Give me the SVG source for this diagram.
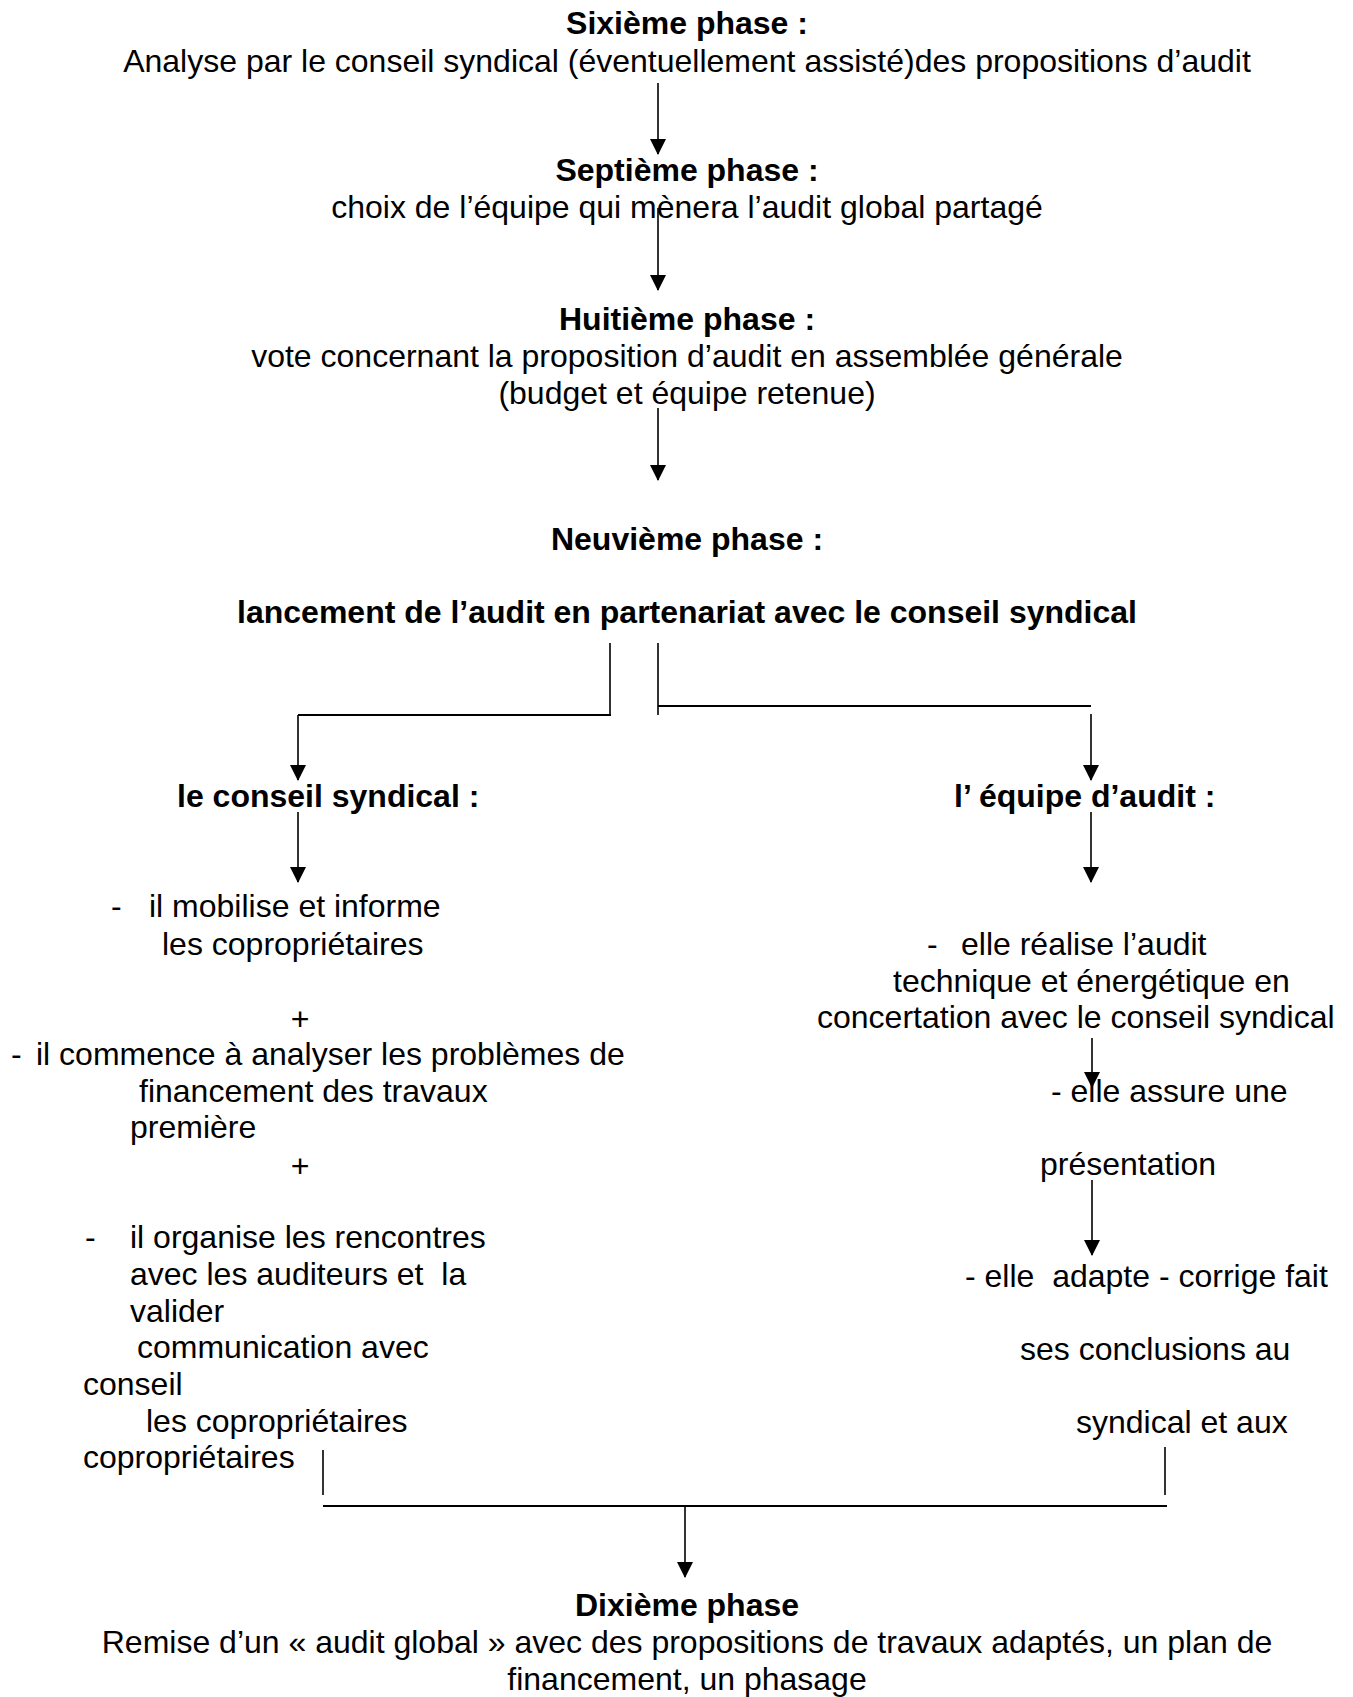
<svg xmlns="http://www.w3.org/2000/svg" width="1353" height="1697" viewBox="0 0 1353 1697">
<style>
text{font-family:"Liberation Sans",Arial,Helvetica,sans-serif;font-size:32px;fill:#000;white-space:pre}
.b{font-weight:bold}
.c{text-anchor:middle}
.ln{stroke:#000;stroke-width:1.6;fill:none}
.hl{stroke:#000;stroke-width:2.2;fill:none}
.ar{stroke:#000;stroke-width:1.6;fill:none;marker-end:url(#ah)}
</style>
<defs>
<marker id="ah" markerUnits="userSpaceOnUse" markerWidth="16" markerHeight="17" refX="15" refY="8" orient="auto"><path d="M0,0 L16,8 L0,16 z" fill="#000"/></marker>
</defs>
<rect width="1353" height="1697" fill="#fff"/>
<g id="phase6">
<text class="b c" x="687" y="34">Sixième phase :</text>
<text class="c" x="687" y="72">Analyse par le conseil syndical (éventuellement assisté)des propositions d’audit</text>
</g>
<g id="phase7">
<text class="b c" x="687" y="181">Septième phase :</text>
<text class="c" x="687" y="218">choix de l’équipe qui mènera l’audit global partagé</text>
</g>
<g id="phase8">
<text class="b c" x="687" y="330">Huitième phase :</text>
<text class="c" x="687" y="367">vote concernant la proposition d’audit en assemblée générale</text>
<text class="c" x="687" y="404">(budget et équipe retenue)</text>
</g>
<g id="phase9">
<text class="b c" x="687" y="550">Neuvième phase :</text>
<text class="b c" x="687" y="623">lancement de l’audit en partenariat avec le conseil syndical</text>
</g>
<g id="conseil">
<text class="b" x="177" y="807">le conseil syndical :</text>
</g>
<g id="equipe">
<text class="b" x="954" y="807">l’ équipe d’audit :</text>
</g>
<g id="conseil-tasks">
<text x="111" y="917">-</text>
<text x="149" y="917">il mobilise et informe</text>
<text x="162" y="955">les copropriétaires</text>
<text class="c" x="300" y="1030">+</text>
<text x="11" y="1065">-</text>
<text x="36" y="1065">il commence à analyser les problèmes de</text>
<text x="139" y="1102">financement des travaux</text>
<text x="130" y="1138">première</text>
<text class="c" x="300" y="1177">+</text>
<text x="85" y="1248">-</text>
<text x="130" y="1248">il organise les rencontres</text>
<text x="130" y="1285">avec les auditeurs et  la</text>
<text x="130" y="1322">valider</text>
<text x="137" y="1358">communication avec</text>
<text x="83" y="1395">conseil</text>
<text x="146" y="1432">les copropriétaires</text>
<text x="83" y="1468">copropriétaires</text>
</g>
<g id="equipe-tasks">
<text x="927" y="955">-</text>
<text x="961" y="955">elle réalise l’audit</text>
<text x="893" y="992">technique et énergétique en</text>
<text x="817" y="1028">concertation avec le conseil syndical</text>
<text x="1051" y="1102">- elle assure une</text>
<text x="1040" y="1175">présentation</text>
<text x="965" y="1287">- elle  adapte - corrige fait</text>
<text x="1020" y="1360">ses conclusions au</text>
<text x="1076" y="1433">syndical et aux</text>
</g>
<g id="phase10">
<text class="b c" x="687" y="1616">Dixième phase</text>
<text class="c" x="687" y="1653">Remise d’un « audit global » avec des propositions de travaux adaptés, un plan de</text>
<text class="c" x="687" y="1690">financement, un phasage</text>
</g>
<g id="connectors">
<line class="ar" x1="658" y1="83" x2="658" y2="154"/>
<line class="ar" x1="658" y1="208" x2="658" y2="290"/>
<line class="ar" x1="658" y1="408" x2="658" y2="480"/>
<polyline class="ln" points="610,643 610,715"/>
<line class="hl" x1="298" y1="715" x2="611" y2="715"/>
<line class="ar" x1="298" y1="715" x2="298" y2="780"/>
<polyline class="ln" points="658,643 658,715"/>
<line class="hl" x1="658" y1="706" x2="1091" y2="706"/>
<line class="ar" x1="1091" y1="714" x2="1091" y2="780"/>
<line class="ar" x1="298" y1="812" x2="298" y2="882"/>
<line class="ar" x1="1091" y1="812" x2="1091" y2="882"/>
<line class="ar" x1="1092" y1="1038" x2="1092" y2="1087"/>
<line class="ar" x1="1092" y1="1180" x2="1092" y2="1255"/>
<line class="ln" x1="323" y1="1450" x2="323" y2="1495"/>
<line class="ln" x1="1165" y1="1447" x2="1165" y2="1495"/>
<line class="hl" x1="323" y1="1506" x2="1167" y2="1506"/>
<line class="ar" x1="685" y1="1506" x2="685" y2="1577"/>
</g>
</svg>
